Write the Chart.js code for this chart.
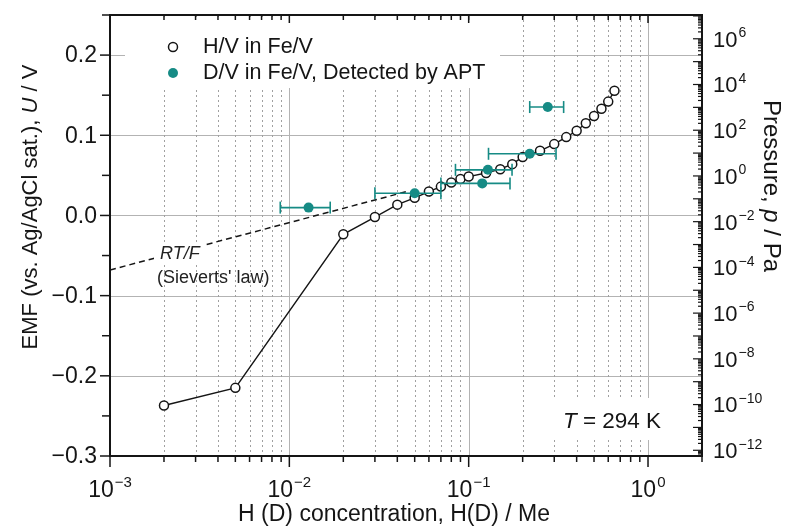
<!DOCTYPE html>
<html>
<head>
<meta charset="utf-8">
<style>
  html, body { margin: 0; padding: 0; background: #ffffff; }
  canvas { display: block; }
</style>
<script src="https://cdn.jsdelivr.net/npm/chart.js@4/dist/chart.umd.min.js"></script>
</head>
<body>
<canvas id="c" width="785" height="527"></canvas>
<script>
// ---- data ----
const hvX = [0.002, 0.005, 0.02, 0.03, 0.04, 0.05, 0.06, 0.07, 0.08, 0.09, 0.1, 0.125, 0.15, 0.175, 0.2, 0.25, 0.3, 0.35, 0.4, 0.45, 0.5, 0.55, 0.6, 0.65];
const hvY = [-0.237, -0.215, -0.0235, -0.002, 0.0135, 0.022, 0.0298, 0.036, 0.041, 0.0455, 0.0485, 0.053, 0.0577, 0.064, 0.073, 0.0806, 0.089, 0.0977, 0.1056, 0.115, 0.124, 0.133, 0.142, 0.1556];
const dvX = [0.0128, 0.05, 0.119, 0.128, 0.219, 0.276];
const dvY = [0.0098, 0.0277, 0.040, 0.0569, 0.0769, 0.1352];
const dvXLow = [0.0089, 0.030, 0.070, 0.0844, 0.129, 0.219];
const dvXHigh = [0.0169, 0.070, 0.170, 0.1745, 0.307, 0.3385];
const sievertsX = [0.001, 0.045];
const sievertsY = [-0.068, 0.0297];
const emfTicks = [0.2, 0.1, 0.0, -0.1, -0.2, -0.3];
const emfTickLabels = ['0.2', '0.1', '0.0', '\u22120.1', '\u22120.2', '\u22120.3'];
const emfMinorTicks = [0.25, 0.15, 0.05, -0.05, -0.15, -0.25];
const concExps = [-3, -2, -1, 0];
const pressureExps = [6, 4, 2, 0, -2, -4, -6, -8, -10, -12];

const FONT = '"Liberation Sans", Arial, Helvetica, sans-serif';
const TEAL = '#168b85';
const INK = '#151515';

function line(ctx, x1, y1, x2, y2) {
  ctx.beginPath(); ctx.moveTo(x1, y1); ctx.lineTo(x2, y2); ctx.stroke();
}
function expText(e) { return e < 0 ? '\u2212' + (-e) : String(e); }
function drawPow(ctx, e, x, y, align, base, sup, raise) {
  const s = expText(e);
  ctx.font = base + 'px ' + FONT; const w1 = ctx.measureText('10').width;
  ctx.font = sup + 'px ' + FONT; const w2 = ctx.measureText(s).width;
  const x0 = align === 'center' ? x - (w1 + w2 + 1) / 2 : x;
  const by = y + base * 0.716 / 2;
  ctx.textAlign = 'left'; ctx.textBaseline = 'alphabetic';
  ctx.font = base + 'px ' + FONT; ctx.fillText('10', x0, by);
  ctx.font = sup + 'px ' + FONT; ctx.fillText(s, x0 + w1 + 1, by - raise);
}
function drawMixed(ctx, parts, cx, cy, angle, size) {
  ctx.save();
  ctx.translate(cx, cy); ctx.rotate(angle);
  let total = 0; const ws = [];
  for (const [t, it] of parts) {
    ctx.font = (it ? 'italic ' : '') + size + 'px ' + FONT;
    const w = ctx.measureText(t).width; ws.push(w); total += w;
  }
  let xx = -total / 2;
  ctx.textAlign = 'left'; ctx.textBaseline = 'middle';
  parts.forEach(([t, it], i) => {
    ctx.font = (it ? 'italic ' : '') + size + 'px ' + FONT;
    ctx.fillText(t, xx, 0); xx += ws[i];
  });
  ctx.restore();
}

const decor = {
  id: 'decor',
  beforeDatasetsDraw(chart) {
    const { ctx, chartArea: a, scales } = chart;
    const x = scales.x, y = scales.y;
    ctx.save();
    ctx.strokeStyle = '#b3b3b3'; ctx.lineWidth = 1;
    for (const v of emfTicks) {
      const py = Math.round(y.getPixelForValue(v)) + 0.5;
      if (py > a.bottom - 2) continue;
      line(ctx, a.left, py, a.right, py);
    }
    for (const e of concExps) {
      const px = Math.round(x.getPixelForValue(Math.pow(10, e))) + 0.5;
      if (px < a.left + 2) continue;
      line(ctx, px, a.top, px, a.bottom);
    }
    ctx.setLineDash([2, 3]);
    ctx.strokeStyle = '#a0a0a0';
    for (const e of concExps) {
      for (let k = 2; k <= 9; k++) {
        const v = k * Math.pow(10, e);
        if (v >= x.max) continue;
        const px = Math.round(x.getPixelForValue(v)) + 0.5;
        line(ctx, px, a.top, px, a.bottom);
      }
    }
    ctx.setLineDash([]);
    // white backgrounds behind legend and temperature label
    ctx.fillStyle = '#ffffff';
    ctx.fillRect(125, 20, 375, 68);
    ctx.fillRect(545, 398, a.right - 547, 42);
    ctx.restore();
  },
  beforeDatasetDraw(chart, args) {
    if (args.index !== 0) return;
    const { ctx, scales: { x, y } } = chart;
    ctx.save();
    ctx.strokeStyle = TEAL; ctx.lineWidth = 1.6;
    dvX.forEach((v, i) => {
      const py = y.getPixelForValue(dvY[i]);
      const x1 = x.getPixelForValue(dvXLow[i]);
      const x2 = x.getPixelForValue(dvXHigh[i]);
      line(ctx, x1, py, x2, py);
      line(ctx, x1, py - 6, x1, py + 6);
      line(ctx, x2, py - 6, x2, py + 6);
    });
    ctx.restore();
  },
  afterDraw(chart) {
    const { ctx, chartArea: a, scales } = chart;
    const x = scales.x, y = scales.y, y2 = scales.y2;
    ctx.save();
    ctx.strokeStyle = INK; ctx.fillStyle = INK;
    // frame
    ctx.lineWidth = 2;
    ctx.strokeRect(a.left, a.top, a.right - a.left, a.bottom - a.top);
    ctx.lineWidth = 1.5;
    // left axis ticks (outward)
    for (const v of emfTicks) { const py = y.getPixelForValue(v); line(ctx, a.left - 10, py, a.left, py); }
    for (const v of emfMinorTicks) { const py = y.getPixelForValue(v); line(ctx, a.left - 8, py, a.left, py); }
    // bottom (outward) and top (inward) ticks
    for (const e of concExps) {
      for (let k = 1; k <= 9; k++) {
        const v = k * Math.pow(10, e);
        if (v > x.max) continue;
        const px = x.getPixelForValue(v);
        const major = k === 1;
        line(ctx, px, a.bottom, px, a.bottom + (major ? 11 : 6));
        line(ctx, px, a.top, px, a.top + (major ? 8 : 5));
      }
    }
    // right axis ticks (inward)
    ctx.lineWidth = 1.2;
    for (let e = -13; e <= 7; e++) {
      for (let k = 1; k <= 9; k++) {
        const v = k * Math.pow(10, e);
        if (v < y2.min || v > y2.max) continue;
        const py = y2.getPixelForValue(v);
        line(ctx, a.right - (k === 1 ? 9 : 4), py, a.right, py);
      }
    }
    // left tick labels
    ctx.font = '23px ' + FONT; ctx.textAlign = 'right'; ctx.textBaseline = 'middle';
    emfTicks.forEach((v, i) => ctx.fillText(emfTickLabels[i], 97, y.getPixelForValue(v) + 1));
    // bottom tick labels
    for (const e of concExps) drawPow(ctx, e, x.getPixelForValue(Math.pow(10, e)), 489, 'center', 23, 15, 10);
    // right tick labels
    for (const e of pressureExps) drawPow(ctx, e, 713, y2.getPixelForValue(Math.pow(10, e)), 'left', 22, 14, 9.5);
    // axis titles
    drawMixed(ctx, [['H (D) concentration, H(D) / Me', false]], 394, 515, 0, 23);
    drawMixed(ctx, [['EMF (vs. Ag/AgCl sat.), ', false], ['U', true], [' / V', false]], 31, 207, -Math.PI / 2, 22);
    drawMixed(ctx, [['Pressure, ', false], ['p', true], [' / Pa', false]], 771, 186, Math.PI / 2, 24);
    // legend
    ctx.lineWidth = 1.5;
    ctx.beginPath(); ctx.arc(173, 47, 4.5, 0, Math.PI * 2); ctx.fillStyle = '#fff'; ctx.fill(); ctx.stroke();
    ctx.beginPath(); ctx.arc(173, 73, 5, 0, Math.PI * 2); ctx.fillStyle = TEAL; ctx.fill();
    ctx.fillStyle = INK; ctx.font = '21.5px ' + FONT; ctx.textAlign = 'left'; ctx.textBaseline = 'middle';
    ctx.fillText(chart.data.datasets[1].label, 203, 47);
    ctx.fillText(chart.data.datasets[0].label, 203, 73);
    // annotations (white patch hides the dashed line behind "RT/F")
    ctx.fillStyle = '#ffffff';
    ctx.fillRect(154, 243, 50, 20);
    ctx.fillStyle = '#222';
    ctx.font = 'italic 18px ' + FONT; ctx.fillText('RT/F', 160, 254);
    ctx.font = '18px ' + FONT; ctx.fillText("(Sieverts' law)", 157, 278);
    ctx.fillStyle = INK;
    drawMixed(ctx, [['T', true], [' = 294 K', false]], 612, 422, 0, 22.5);
    ctx.restore();
  }
};

new Chart(document.getElementById('c'), {
  type: 'scatter',
  data: {
    datasets: [
      {
        label: 'D/V in Fe/V, Detected by APT',
        data: dvX.map((v, i) => ({ x: v, y: dvY[i] })),
        showLine: false,
        pointRadius: 5, pointBackgroundColor: TEAL, pointBorderColor: TEAL, pointBorderWidth: 0,
        order: 0
      },
      {
        label: 'H/V in Fe/V',
        data: hvX.map((v, i) => ({ x: v, y: hvY[i] })),
        showLine: true, borderColor: INK, borderWidth: 1.4,
        pointRadius: 4.5, pointBackgroundColor: '#ffffff', pointBorderColor: INK, pointBorderWidth: 1.5,
        order: 1
      },
      {
        label: "RT/F (Sieverts' law)",
        data: sievertsX.map((v, i) => ({ x: v, y: sievertsY[i] })),
        showLine: true, borderColor: INK, borderWidth: 1.5, borderDash: [6, 4],
        pointRadius: 0,
        order: 2
      }
    ]
  },
  options: {
    responsive: false,
    animation: false,
    devicePixelRatio: 1,
    layout: { padding: { left: 110, right: 83, top: 15, bottom: 71 } },
    plugins: { legend: { display: false }, tooltip: { enabled: false } },
    scales: {
      x: { type: 'logarithmic', min: 0.001, max: 2, display: false },
      y: { type: 'linear', min: -0.3, max: 0.25, display: false },
      y2: { type: 'logarithmic', position: 'right', min: Math.pow(10, -12.25), max: Math.pow(10, 7.04), display: false }
    }
  },
  plugins: [decor]
});
</script>
</body>
</html>
